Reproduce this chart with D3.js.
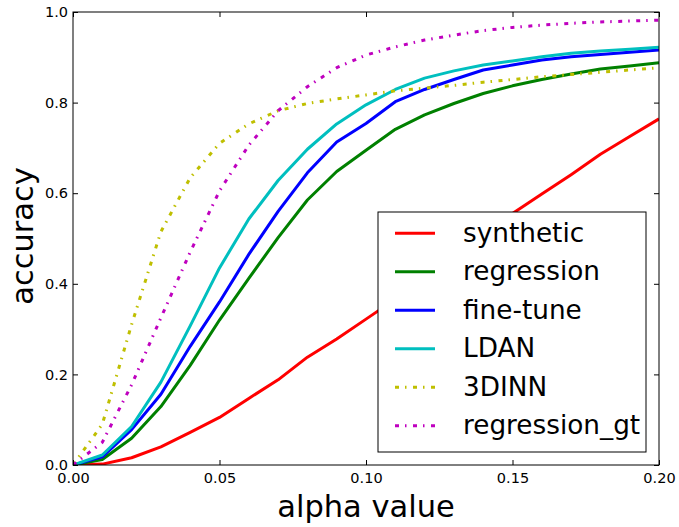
<!DOCTYPE html>
<html>
<head>
<meta charset="utf-8">
<script src="https://cdn.jsdelivr.net/npm/d3@7"></script>
<style>
  body { margin: 0; background: #fff; }
  svg { display: block; font-family: "DejaVu Sans", sans-serif; }
</style>
</head>
<body>
<svg id="chart" width="679" height="527"></svg>
<script>
// ---- data ----
const alphaValues = [0, 0.01, 0.02, 0.03, 0.04, 0.05, 0.06, 0.07, 0.08, 0.09, 0.10,
                     0.11, 0.12, 0.13, 0.14, 0.15, 0.16, 0.17, 0.18, 0.19, 0.20];
const synthetic    = [0, 0.002, 0.016, 0.04, 0.072, 0.105, 0.147, 0.188, 0.238, 0.278, 0.322, 0.366, 0.41, 0.46, 0.51, 0.555, 0.598, 0.641, 0.686, 0.725, 0.764];
const regression   = [0, 0.012, 0.059, 0.129, 0.22, 0.32, 0.412, 0.502, 0.585, 0.648, 0.695, 0.741, 0.773, 0.798, 0.82, 0.837, 0.851, 0.863, 0.874, 0.881, 0.888];
const fineTune     = [0, 0.018, 0.078, 0.156, 0.262, 0.36, 0.465, 0.56, 0.645, 0.713, 0.754, 0.802, 0.829, 0.851, 0.872, 0.883, 0.894, 0.901, 0.906, 0.911, 0.916];
const ldan         = [0, 0.022, 0.085, 0.183, 0.307, 0.435, 0.543, 0.628, 0.697, 0.753, 0.795, 0.829, 0.854, 0.870, 0.883, 0.892, 0.901, 0.909, 0.914, 0.918, 0.922];
const dinn3        = [0, 0.09, 0.31, 0.515, 0.634, 0.71, 0.753, 0.782, 0.798, 0.808, 0.817, 0.826, 0.832, 0.838, 0.845, 0.851, 0.857, 0.862, 0.867, 0.872, 0.877];
const regressionGt = [0, 0.05, 0.177, 0.325, 0.47, 0.605, 0.706, 0.782, 0.835, 0.877, 0.905, 0.923, 0.938, 0.949, 0.959, 0.966, 0.971, 0.975, 0.978, 0.980, 0.982];

const seriesNames = ["synthetic", "regression", "fine-tune", "LDAN", "3DINN", "regression_gt"];
const seriesValues = [synthetic, regression, fineTune, ldan, dinn3, regressionGt];
const seriesColors = ["#ff0000", "#008000", "#0000ff", "#00bfbf", "#bfbf00", "#bf00bf"];
const seriesDashed = [false, false, false, false, true, true];

const xTicks = [0, 0.05, 0.10, 0.15, 0.20];
const yTicks = [0, 0.2, 0.4, 0.6, 0.8, 1.0];
const xLabel = "alpha value";
const yLabel = "accuracy";

// ---- layout ----
const W = 679, H = 527;
const m = { left: 73, top: 12, right: 20, bottom: 62 };
const pw = W - m.left - m.right, ph = H - m.top - m.bottom;
const DASH = "4,6,1.5,6.5";

const svg = d3.select("#chart");
const x = d3.scaleLinear().domain([0, 0.2]).range([0, pw]);
const y = d3.scaleLinear().domain([0, 1]).range([ph, 0]);

svg.append("defs").append("clipPath").attr("id", "clip")
  .append("rect").attr("width", pw).attr("height", ph);

const g = svg.append("g").attr("transform", `translate(${m.left},${m.top})`);

// lines
const line = d3.line().x((d, i) => x(alphaValues[i])).y(d => y(d));
const plot = g.append("g").attr("clip-path", "url(#clip)");
seriesValues.forEach((vals, k) => {
  plot.append("path")
    .datum(vals)
    .attr("d", line)
    .attr("fill", "none")
    .attr("stroke", seriesColors[k])
    .attr("stroke-width", 3)
    .attr("stroke-linejoin", "round")
    .attr("stroke-dasharray", seriesDashed[k] ? DASH : null);
});

// axes
const fmtX = d3.format(".2f"), fmtY = d3.format(".1f");
const axStyle = sel => {
  sel.select(".domain").remove();
  sel.selectAll(".tick line").attr("stroke", "#000").attr("stroke-width", 1);
  sel.selectAll(".tick text").attr("fill", "#000").style("font-size", "14.5px")
     .style("font-family", "'DejaVu Sans', sans-serif");
};
g.append("g").attr("transform", `translate(0,${ph})`)
  .call(d3.axisBottom(x).tickValues(xTicks).tickFormat(fmtX).tickSize(-5).tickPadding(8))
  .call(axStyle);
g.append("g")
  .call(d3.axisTop(x).tickValues(xTicks).tickFormat("").tickSize(-5))
  .call(axStyle);
g.append("g")
  .call(d3.axisLeft(y).tickValues(yTicks).tickFormat(fmtY).tickSize(-5).tickPadding(5))
  .call(axStyle);
g.append("g").attr("transform", `translate(${pw},0)`)
  .call(d3.axisRight(y).tickValues(yTicks).tickFormat("").tickSize(-5))
  .call(axStyle);

// frame
g.append("rect").attr("width", pw).attr("height", ph)
  .attr("fill", "none").attr("stroke", "#000").attr("stroke-width", 1);

// axis labels
svg.append("text").attr("x", m.left + pw / 2).attr("y", 516.5)
  .attr("text-anchor", "middle").style("font-size", "30.5px").attr("fill", "#000")
  .text(xLabel);
svg.append("text")
  .attr("transform", `translate(33,236) rotate(-90)`)
  .attr("text-anchor", "middle").style("font-size", "30.5px").attr("fill", "#000")
  .text(yLabel);

// legend
const lg = svg.append("g").attr("transform", "translate(378,212)");
lg.append("rect").attr("width", 268).attr("height", 240)
  .attr("fill", "#fff").attr("stroke", "#000").attr("stroke-width", 1);
seriesNames.forEach((name, k) => {
  const cy = 21.3 + k * 38.5;
  lg.append("line").attr("x1", 17).attr("x2", 57).attr("y1", cy).attr("y2", cy)
    .attr("stroke", seriesColors[k]).attr("stroke-width", 3)
    .attr("stroke-dasharray", seriesDashed[k] ? DASH : null);
  lg.append("text").attr("x", 85).attr("y", cy).attr("dy", "0.32em")
    .style("font-size", "26.3px").attr("fill", "#000").text(name);
});
</script>
</body>
</html>
